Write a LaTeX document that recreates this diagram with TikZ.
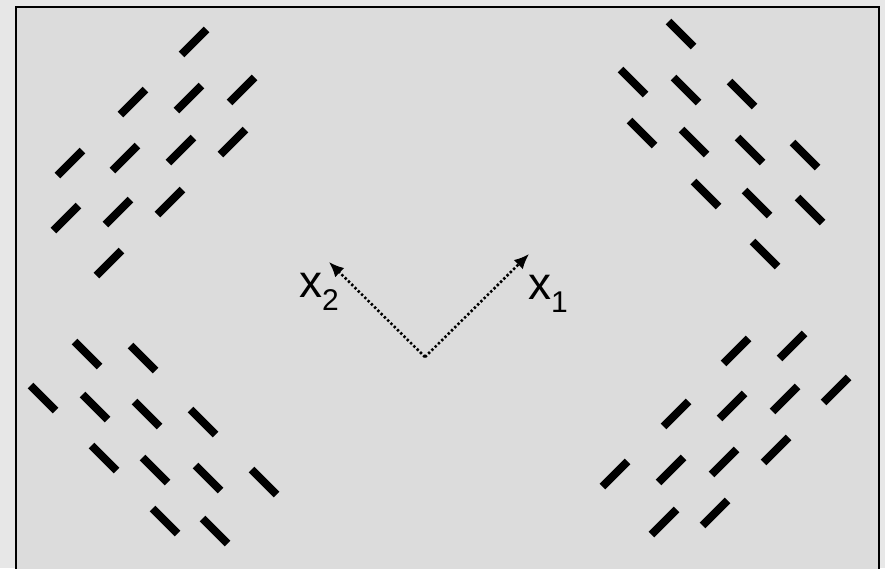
\documentclass[tikz,border=0pt]{standalone}
\usepackage{fontspec}
\setmainfont{Liberation Sans}
\usepackage{xcolor}
\definecolor{paper}{RGB}{231,231,231}
\definecolor{panel}{RGB}{220,220,220}
\usetikzlibrary{arrows.meta,positioning,calc}

\tikzset{
  bar/.style={line width=8pt},
  axis/.style={line width=2.6pt, dash pattern=on 2.4pt off 2.2pt, -{Latex[length=15pt,width=13pt]}},
  axislabel/.style={anchor=base west, inner sep=0pt, font=\fontsize{46}{46}\selectfont}
}
\newcommand{\sublow}[1]{\raisebox{-13pt}{\fontsize{30}{30}\selectfont #1}}

\begin{document}
\begin{tikzpicture}[x=1pt, y=-1pt]
  \useasboundingbox (0,0) rectangle (885,568);
  \fill[paper] (0,0) rectangle (885,568);
  \draw[line width=2.4pt, fill=panel] (16,7) rectangle (879,590);

  % rising bars (upper left, lower right)
  \foreach \cx/\cy in {194/42, 133/102, 189/98, 242/90, 70/163, 125/158, 181/150, 233/142,
                       66/218, 118/212, 170/202, 109/263,
                       736/351, 792/346, 676/414, 732/406, 785/399, 836/390,
                       615/474, 671/470, 724/462, 776/450, 664/522, 715/513}
    \draw[bar] (\cx-12.5,\cy+12.5) -- (\cx+12.5,\cy-12.5);

  % falling bars (upper right, lower left)
  \foreach \cx/\cy in {681/34, 633/82, 686/90, 742/94, 642/133, 694/142, 750/150, 805/155,
                       706/194, 757/203, 810/210, 765/254,
                       87/354, 143/358, 43/398, 95/407, 147/414, 203/422,
                       104/458, 155/470, 208/478, 264/482, 165/521, 215/531}
    \draw[bar] (\cx-12.5,\cy-12.5) -- (\cx+12.5,\cy+12.5);

  % axes
  \coordinate (o) at (425,357);
  \coordinate (e1) at (529,254);
  \coordinate (e2) at (329,262);
  \draw[axis] (o) -- (e1);
  \draw[axis] (o) -- (e2);
  \node[axislabel] (x1) at (528,299.5) {x\sublow{1}};
  \node[axislabel] (x2) at (299,297) {x\sublow{2}};
\end{tikzpicture}
\end{document}
